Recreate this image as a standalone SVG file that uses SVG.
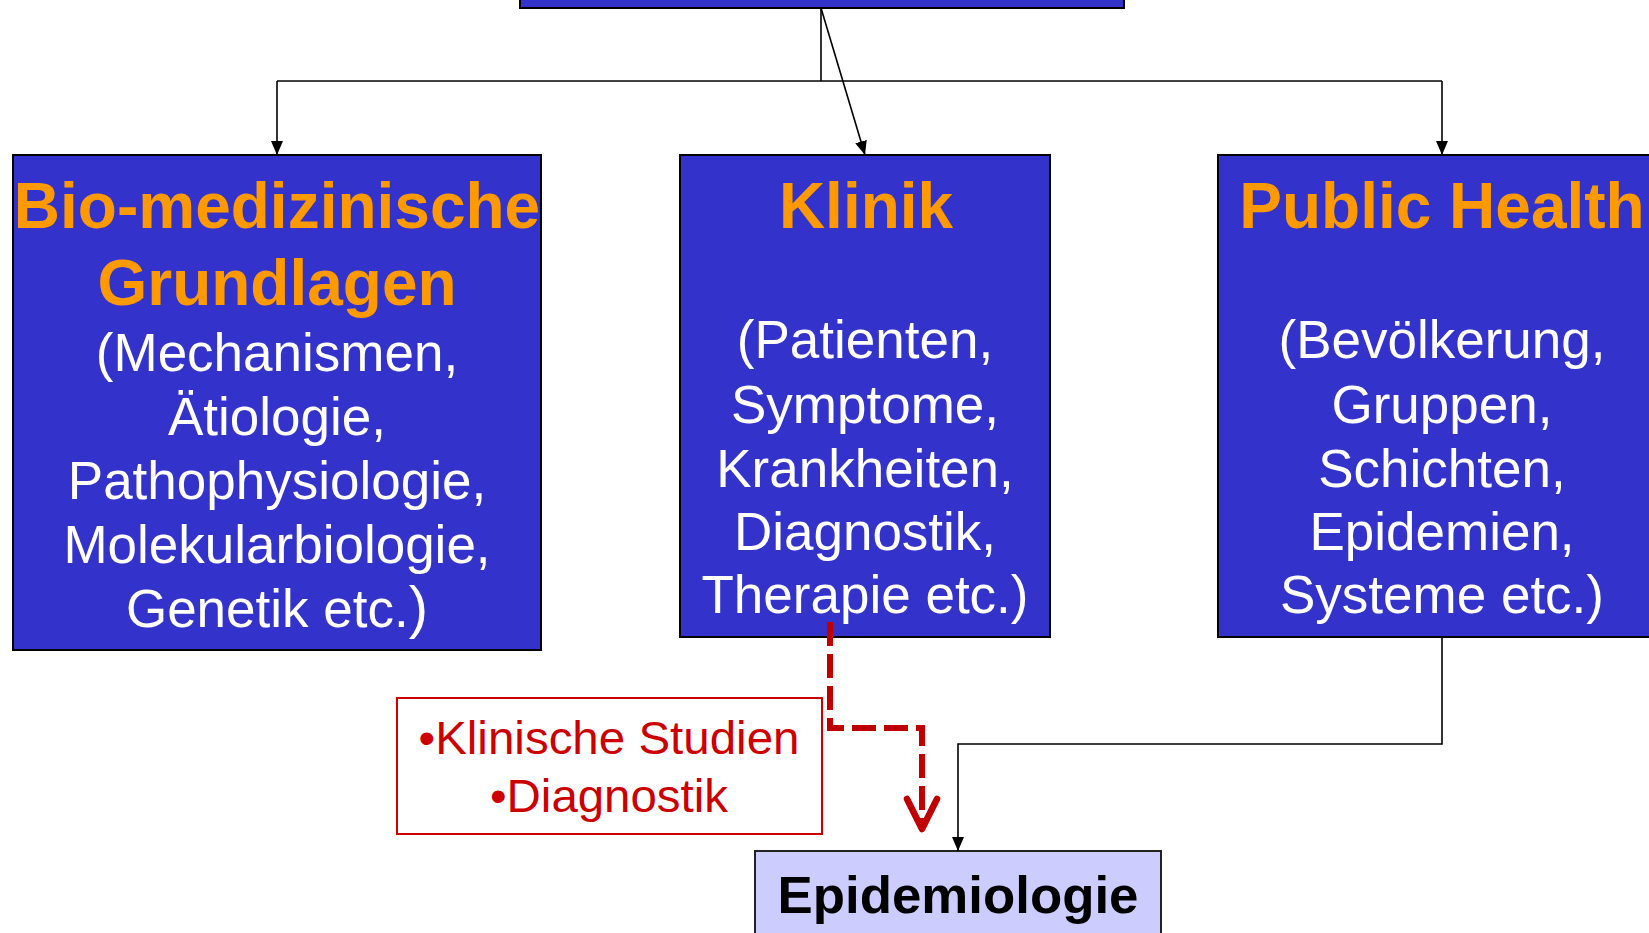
<svg xmlns="http://www.w3.org/2000/svg" width="1649" height="933" viewBox="0 0 1649 933">
<style>
.blue{fill:#3333CC;stroke:#000;stroke-width:2}
.head{font-family:"Liberation Sans",Arial,sans-serif;font-weight:bold;fill:#FF9900;text-anchor:middle}
.body{font-family:"Liberation Sans",Arial,sans-serif;fill:#fff;font-size:53px;text-anchor:middle}
.red{font-family:"Liberation Sans",Arial,sans-serif;fill:#CC0000;font-size:46px;text-anchor:middle}
.conn{fill:none;stroke:#000;stroke-width:1.6}
</style>
<defs>
<marker id="arr" markerWidth="14" markerHeight="14" viewBox="0 0 14 14" refX="14" refY="7" orient="auto" markerUnits="userSpaceOnUse">
<path d="M0,1 L14,7 L0,13 z" fill="#000"/>
</marker>
</defs>
<rect width="1649" height="933" fill="#fff"/>
<g id="top">
<rect class="blue" x="520" y="-10" width="604" height="18"/>
</g>
<g id="bio">
<rect class="blue" x="13" y="155" width="528" height="495"/>
<text class="head" x="277" y="228" font-size="64">Bio-medizinische</text>
<text class="head" x="277" y="305" font-size="64">Grundlagen</text>
<text class="body" x="277" y="371">(Mechanismen,</text>
<text class="body" x="277" y="435">Ätiologie,</text>
<text class="body" x="277" y="499">Pathophysiologie,</text>
<text class="body" x="277" y="563">Molekularbiologie,</text>
<text class="body" x="277" y="627">Genetik etc.<tspan font-size="58">)</tspan></text>
</g>
<g id="klinik">
<rect class="blue" x="680" y="155" width="370" height="482"/>
<text class="head" x="866" y="228" font-size="64">Klinik</text>
<text class="body" x="865" y="358">(Patienten,</text>
<text class="body" x="865" y="423">Symptome,</text>
<text class="body" x="865" y="487">Krankheiten,</text>
<text class="body" x="865" y="550">Diagnostik,</text>
<text class="body" x="865" y="613">Therapie etc.)</text>
</g>
<g id="public">
<rect class="blue" x="1218" y="155" width="448" height="482"/>
<text class="head" x="1442" y="228" font-size="64">Public Health</text>
<text class="body" x="1442" y="358">(Bevölkerung,</text>
<text class="body" x="1442" y="423">Gruppen,</text>
<text class="body" x="1442" y="487">Schichten,</text>
<text class="body" x="1442" y="550">Epidemien,</text>
<text class="body" x="1442" y="613">Systeme etc.)</text>
</g>
<g id="studien">
<rect x="397" y="698" width="425" height="136" fill="#fff" stroke="#CC0000" stroke-width="2"/>
<text class="red" x="609" y="754" textLength="381" lengthAdjust="spacingAndGlyphs">•Klinische Studien</text>
<text class="red" x="609" y="812" textLength="238" lengthAdjust="spacingAndGlyphs">•Diagnostik</text>
</g>
<g id="epi">
<rect x="755" y="851" width="406" height="100" fill="#CCCCFF" stroke="#222" stroke-width="2"/>
<text x="958" y="913" font-family="Liberation Sans, Arial, sans-serif" font-weight="bold" font-size="52" text-anchor="middle" fill="#000" textLength="361" lengthAdjust="spacingAndGlyphs">Epidemiologie</text>
</g>
<g id="connectors">
<path class="conn" d="M821,8 V81"/>
<path class="conn" d="M277,81 H1442"/>
<path class="conn" d="M277,81 V155" marker-end="url(#arr)"/>
<path class="conn" d="M1442,81 V155" marker-end="url(#arr)"/>
<path class="conn" d="M821,8 L865,155" marker-end="url(#arr)"/>
<path class="conn" d="M1442,637 V744 H958 V851" marker-end="url(#arr)"/>
<path d="M830,622 V728 H922 V826" fill="none" stroke="#C00000" stroke-width="6" stroke-dasharray="24 8"/>
<polyline points="907,799 922,829 937,799" fill="none" stroke="#C00000" stroke-width="6.5" stroke-linejoin="round" stroke-linecap="round"/>
</g>
</svg>
